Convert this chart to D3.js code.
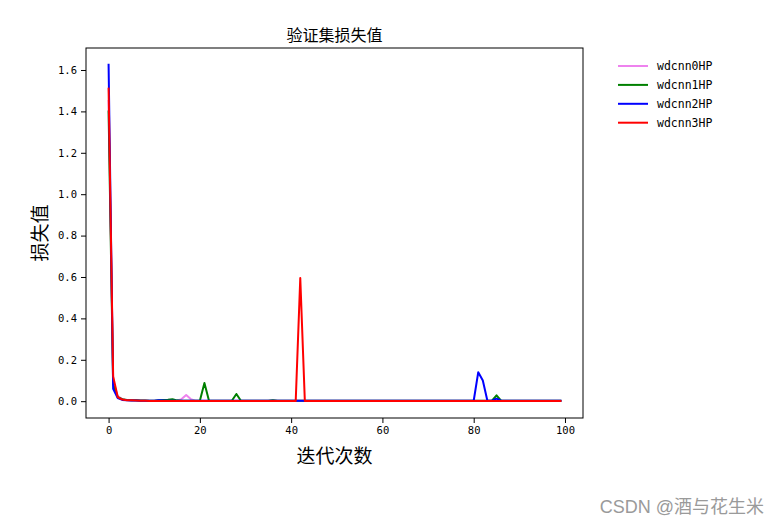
<!DOCTYPE html>
<html>
<head>
<meta charset="utf-8">
<script src="https://cdn.jsdelivr.net/npm/d3@7"></script>
<style>
  body { margin: 0; background: #fff; }
  svg { display: block; }
</style>
</head>
<body>
<div id="chart"></div>
<script>
// series values (epoch 0..99)
var names = ["wdcnn0HP", "wdcnn1HP", "wdcnn2HP", "wdcnn3HP"];
var colors = ["violet", "green", "blue", "red"];

var loss0HP = [1.45,0.10,0.025,0.01,0.006,0.005,0.004,0.003,0.003,0.002,
  0.002,0.002,0.002,0.002,0.002,0.002,0.01,0.03,0.01,0.002,
  0.002,0.002,0.002,0.002,0.002,0.002,0.002,0.002,0.002,0.002,
  0.002,0.002,0.002,0.002,0.002,0.002,0.005,0.002,0.002,0.002,
  0.002,0.002,0.002,0.002,0.002,0.002,0.002,0.002,0.002,0.002,
  0.002,0.002,0.002,0.002,0.002,0.002,0.002,0.002,0.002,0.002,
  0.002,0.002,0.002,0.002,0.002,0.002,0.002,0.002,0.002,0.002,
  0.002,0.002,0.002,0.002,0.002,0.002,0.002,0.002,0.002,0.002,
  0.002,0.002,0.002,0.002,0.002,0.002,0.002,0.002,0.002,0.002,
  0.002,0.002,0.002,0.002,0.002,0.002,0.002,0.002,0.002,0.002];
var loss1HP = [1.40,0.08,0.02,0.01,0.006,0.005,0.004,0.003,0.003,0.002,
  0.002,0.004,0.006,0.007,0.009,0.004,0.002,0.002,0.002,0.002,
  0.002,0.088,0.002,0.002,0.002,0.002,0.002,0.002,0.035,0.002,
  0.002,0.002,0.002,0.002,0.002,0.002,0.004,0.002,0.002,0.002,
  0.002,0.002,0.002,0.002,0.002,0.002,0.002,0.002,0.002,0.002,
  0.002,0.002,0.002,0.002,0.002,0.002,0.002,0.002,0.002,0.002,
  0.002,0.002,0.002,0.002,0.002,0.002,0.002,0.002,0.002,0.002,
  0.002,0.002,0.002,0.002,0.002,0.002,0.002,0.002,0.002,0.002,
  0.002,0.002,0.002,0.002,0.002,0.028,0.002,0.002,0.002,0.002,
  0.002,0.002,0.002,0.002,0.002,0.002,0.002,0.002,0.002,0.002];
var loss2HP = [1.625,0.06,0.015,0.006,0.004,0.003,0.003,0.002,0.002,0.002,
  0.002,0.004,0.003,0.002,0.002,0.002,0.002,0.002,0.002,0.002,
  0.002,0.002,0.002,0.002,0.002,0.002,0.002,0.002,0.002,0.002,
  0.002,0.002,0.002,0.002,0.002,0.002,0.002,0.002,0.002,0.002,
  0.002,0.002,0.002,0.002,0.002,0.002,0.002,0.002,0.002,0.002,
  0.002,0.002,0.002,0.002,0.002,0.002,0.002,0.002,0.002,0.002,
  0.002,0.002,0.002,0.002,0.002,0.002,0.002,0.002,0.002,0.002,
  0.002,0.002,0.002,0.002,0.002,0.002,0.002,0.002,0.002,0.002,
  0.002,0.14,0.10,0.002,0.002,0.012,0.002,0.002,0.002,0.002,
  0.002,0.002,0.002,0.002,0.002,0.002,0.002,0.002,0.002,0.002];
var loss3HP = [1.51,0.12,0.02,0.008,0.005,0.004,0.003,0.002,0.002,0.001,
  0.001,0.001,0.001,0.001,0.001,0.001,0.001,0.001,0.001,0.001,
  0.001,0.001,0.001,0.001,0.001,0.001,0.001,0.001,0.001,0.001,
  0.001,0.001,0.001,0.001,0.001,0.001,0.001,0.001,0.001,0.001,
  0.001,0.001,0.595,0.001,0.001,0.001,0.001,0.001,0.001,0.001,
  0.001,0.001,0.001,0.001,0.001,0.001,0.001,0.001,0.001,0.001,
  0.001,0.001,0.001,0.001,0.001,0.001,0.001,0.001,0.001,0.001,
  0.001,0.001,0.001,0.001,0.001,0.001,0.001,0.001,0.001,0.001,
  0.001,0.001,0.001,0.001,0.001,0.001,0.001,0.001,0.001,0.001,
  0.001,0.001,0.001,0.001,0.001,0.001,0.001,0.001,0.001,0.001];

var xTicks = [0, 20, 40, 60, 80, 100];
var yTicks = [0.0, 0.2, 0.4, 0.6, 0.8, 1.0, 1.2, 1.4, 1.6];

var allSeries = [loss0HP, loss1HP, loss2HP, loss3HP];

var svgWidth = 780;
var svgHeight = 525;

var margin = { top: 48, right: 197, bottom: 107, left: 86 };
var width = svgWidth - margin.left - margin.right;
var height = svgHeight - margin.top - margin.bottom;

var monoFont = "'DejaVu Sans Mono', monospace";
var cjkFont = "'Noto Sans CJK SC', sans-serif";

var svg = d3.select("#chart")
  .append("svg")
  .attr("width", svgWidth)
  .attr("height", svgHeight);

var chartGroup = svg.append("g")
  .attr("transform", `translate(${margin.left}, ${margin.top})`);

// matplotlib style 5% padding on both axes
var nPts = loss0HP.length;
var xPad = (nPts - 1) * 0.05;
var yMax = d3.max(allSeries, s => d3.max(s));
var yMin = 0;
var yPad = (yMax - yMin) * 0.05;

var xScale = d3.scaleLinear()
  .domain([-xPad, nPts - 1 + xPad])
  .range([0, width]);

var yScale = d3.scaleLinear()
  .domain([yMin - yPad, yMax + yPad])
  .range([height, 0]);

// axes
var bottomAxis = d3.axisBottom(xScale).tickValues(xTicks).tickSize(5).tickPadding(4).tickFormat(d3.format("d"));
var leftAxis = d3.axisLeft(yScale).tickValues(yTicks).tickSize(5).tickPadding(4).tickFormat(d3.format(".1f"));

var xAxis = chartGroup.append("g")
  .attr("transform", `translate(0, ${height})`)
  .call(bottomAxis);

var yAxis = chartGroup.append("g")
  .call(leftAxis);

[xAxis, yAxis].forEach(function(ax) {
  ax.select(".domain").remove();
  ax.selectAll("text")
    .attr("fill", "#000")
    .style("font-family", monoFont)
    .style("font-size", "10.5px");
  ax.selectAll("line").attr("stroke", "#000").attr("stroke-width", 1);
});

// lines
var line = d3.line()
  .x((d, i) => xScale(i))
  .y(d => yScale(d));

chartGroup.append("g")
  .attr("clip-path", "url(#clip)")
  .selectAll("path")
  .data(allSeries)
  .enter()
  .append("path")
  .attr("d", line)
  .attr("fill", "none")
  .attr("stroke", (d, i) => colors[i])
  .attr("stroke-width", 2)
  .attr("stroke-linejoin", "round")
  .attr("stroke-linecap", "square");

svg.append("defs").append("clipPath").attr("id", "clip")
  .append("rect").attr("width", width).attr("height", height);

// frame
chartGroup.append("rect")
  .attr("width", width)
  .attr("height", height)
  .attr("fill", "none")
  .attr("stroke", "#000")
  .attr("stroke-width", 1);

// title and axis labels
svg.append("text")
  .attr("x", margin.left + width / 2)
  .attr("y", 41)
  .attr("text-anchor", "middle")
  .style("font-family", cjkFont)
  .style("font-size", "16px")
  .text("验证集损失值");

svg.append("text")
  .attr("x", margin.left + width / 2)
  .attr("y", 463)
  .attr("text-anchor", "middle")
  .style("font-family", cjkFont)
  .style("font-size", "19px")
  .text("迭代次数");

svg.append("text")
  .attr("transform", `translate(47, ${margin.top + height / 2}) rotate(-90)`)
  .attr("text-anchor", "middle")
  .style("font-family", cjkFont)
  .style("font-size", "19px")
  .text("损失值");

// legend (outside the axes, no frame)
var legend = svg.append("g").attr("transform", "translate(618, 66)");
names.forEach(function(name, i) {
  var row = legend.append("g").attr("transform", `translate(0, ${i * 18.9})`);
  row.append("line")
    .attr("x1", 0).attr("x2", 30)
    .attr("stroke", colors[i])
    .attr("stroke-width", 2);
  row.append("text")
    .attr("x", 39)
    .attr("y", 4)
    .style("font-family", monoFont)
    .style("font-size", "11.5px")
    .text(name);
});

// watermark
svg.append("text")
  .attr("x", 764)
  .attr("y", 513)
  .attr("text-anchor", "end")
  .attr("fill", "#9a9a9a")
  .style("font-family", "'Liberation Sans', 'Noto Sans CJK SC', sans-serif")
  .style("font-size", "18px")
  .text("CSDN @酒与花生米");
</script>
</body>
</html>
